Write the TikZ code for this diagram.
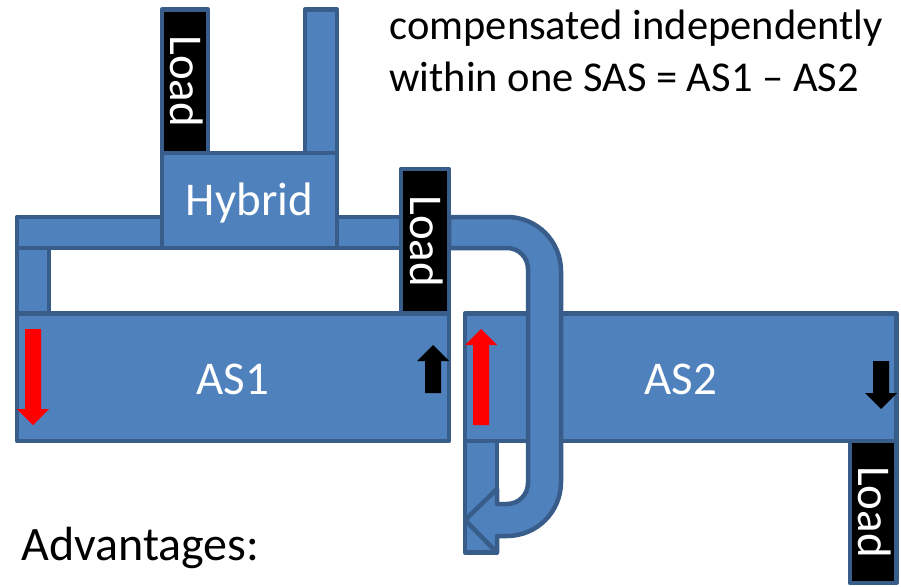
\documentclass[tikz,border=0pt]{standalone}
\usepackage{fontspec}
\setmainfont{Carlito}
\usepackage{xcolor}
\usetikzlibrary{positioning}
\definecolor{barFill}{HTML}{4F81BD}
\definecolor{barEdge}{HTML}{385D8A}
\tikzset{
  bar/.style={draw=barEdge, line width=4.5pt, line join=round, fill=barFill, inner sep=0pt, outer sep=0pt,
    anchor=north west, text=white, font=\fontsize{47}{56}\selectfont},
  loadbox/.style={bar, fill=black, anchor=center},
  lab/.style={text=white, font=\fontsize{47}{56}\selectfont},
  note/.style={font=\fontsize{42.5}{51}\selectfont, text=black, anchor=base west},
}
\begin{document}
\begin{tikzpicture}[x=1pt, y=-1pt]
  \useasboundingbox (0,0) rectangle (901,586);
  \clip (0,0) rectangle (901,586);
  % \arw{centre x}{tail y}{head base y}{tip y}{color}
  \newcommand{\arw}[5]{\fill[#5] (#1-8,#2) -- (#1-8,#3) -- (#1-16,#3) -- (#1,#4) -- (#1+16,#3) -- (#1+8,#3) -- (#1+8,#2) -- cycle;}
  \newcommand{\loadtxt}{\hspace{4pt}\rotatebox{-90}{Load}}
  % ---- hybrid with its two arms and the stubs
  \node[bar, minimum width=32pt, minimum height=144pt] (stub) at (305,9.5) {};
  \node[bar, minimum width=145pt, minimum height=31pt] (busL) at (17,217) {};
  \node[bar, minimum width=64pt, minimum height=31pt] (busR) at (337,217) {};
  \node[bar, minimum width=32pt, minimum height=66pt] (drop) at (17,248) {};
  \node[bar, minimum width=175pt, minimum height=95pt] (hybrid) at (162,153) {};
  \node[lab] (hybridtxt) at (249.5,203) {Hybrid};
  % ---- the two sub-arrays
  \node[bar, minimum width=432pt, minimum height=127.5pt] (as1) at (17,313.5) {};
  \node[bar, minimum width=431.5pt, minimum height=127.5pt] (as2) at (465,313.5) {};
  \node[lab] (as1txt) at (233,379) {AS1};
  \node[bar, minimum width=32pt, minimum height=111.5pt] (tail) at (465,441) {};
  % ---- U-turn running from the right arm round into the tail
  \draw[draw=barEdge, line width=4.5pt, fill=barFill, line join=round]
    (449,217) -- (507,217) arc[start angle=-90, end angle=0, radius=54] -- (561,482)
    arc[start angle=0, end angle=90, radius=54] -- (497,536) -- (497,552.5) -- (465,520) -- (497,489)
    -- (497,504) -- (507,504) arc[start angle=90, end angle=0, radius=21] -- (528,269)
    arc[start angle=0, end angle=-90, radius=21] -- (449,248) -- cycle;
  \node[lab] (as2txt) at (681,379) {AS2};
  % ---- loads
  \node[loadbox, minimum width=46pt, minimum height=143.5pt] (loadA) at (185,81.25) {\loadtxt};
  \node[loadbox, minimum width=48pt, minimum height=144.5pt] (loadB) at (425,241.25) {\loadtxt};
  \node[loadbox, minimum width=46.5pt, minimum height=142pt] (loadC) at (873,512) {\loadtxt};
  % ---- current directions
  \arw{33}{329}{409}{425}{red}
  \arw{481}{425}{345}{329}{red}
  \arw{433}{393}{361}{345}{black}
  \arw{881}{361}{393}{409}{black}
  % ---- text
  \node[note] (noteA) at (386,40) {compensated independently};
  \node[note] (noteB) at (386,91) {within one SAS = AS1 -- AS2};
  \node[note, font=\fontsize{48}{58}\selectfont] (adv) at (18,560) {Advantages:};
\end{tikzpicture}
\end{document}
